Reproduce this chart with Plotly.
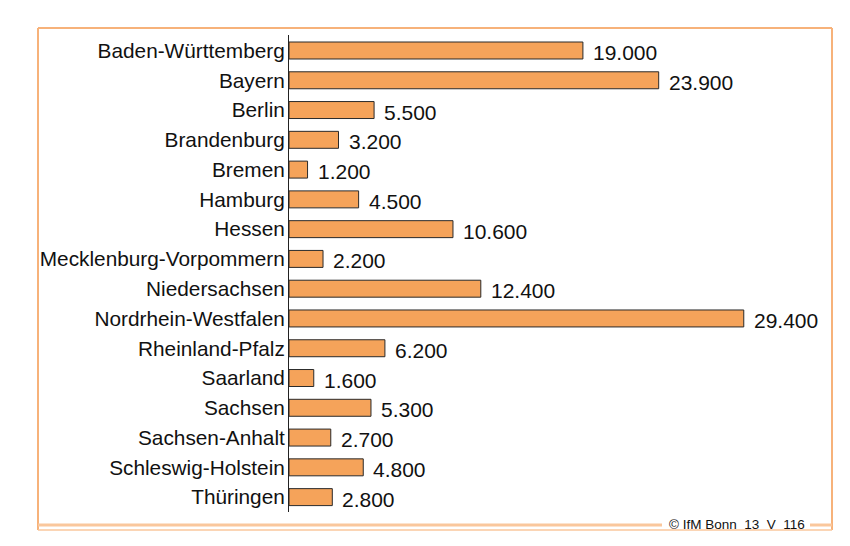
import plotly.graph_objects as go

categories = [
    "Baden-Württemberg", "Bayern", "Berlin", "Brandenburg", "Bremen", "Hamburg",
    "Hessen", "Mecklenburg-Vorpommern", "Niedersachsen", "Nordrhein-Westfalen",
    "Rheinland-Pfalz", "Saarland", "Sachsen", "Sachsen-Anhalt",
    "Schleswig-Holstein", "Thüringen",
]
values = [19000, 23900, 5500, 3200, 1200, 4500, 10600, 2200, 12400, 29400,
          6200, 1600, 5300, 2700, 4800, 2800]
footer = "© IfM Bonn\u00a0\u00a013\u00a0\u00a0V\u00a0\u00a0116"

# page has an 8px body margin; figure coordinates = screen - 8
OFF = 8
W, H = 834, 530
L, R, T, B = 281, 58, 27, 26
PW, PH = W - L - R, H - T - B


def xp(px):
    return (px - OFF - L) / PW


def yp(py):
    return (H - B - (py - OFF)) / PH


FONT = "Liberation Sans, Arial, sans-serif"
BAR = "#F5A35A"
FRAME = "#F7B27A"
FRAME_LIGHT = "#FAC79C"

fig = go.Figure()
fig.add_trace(go.Bar(
    x=values, y=categories, orientation="h",
    marker=dict(color=BAR, line=dict(color="#2a2a2a", width=1)),
    hoverinfo="skip",
))

for c, v in zip(categories, values):
    fig.add_annotation(
        x=v, y=c, xref="x", yref="y", text=f"{v:,}".replace(",", "."),
        showarrow=False, xanchor="left", xshift=8, yshift=-2,
        font=dict(family=FONT, size=21, color="#111111"),
    )


def hline(x0, x1, y, color, width):
    return dict(type="line", xref="paper", yref="paper",
                x0=xp(x0), x1=xp(x1), y0=yp(y), y1=yp(y),
                line=dict(color=color, width=width))


def vline(x, y0, y1, color, width):
    return dict(type="line", xref="paper", yref="paper",
                x0=xp(x), x1=xp(x), y0=yp(y0), y1=yp(y1),
                line=dict(color=color, width=width))


shapes = [
    hline(38, 832, 28, FRAME, 2),
    vline(38, 28, 530, FRAME, 2),
    vline(832, 28, 530, FRAME, 2),
    hline(38, 832, 530, FRAME_LIGHT, 1.5),
    hline(38, 662, 525, FRAME_LIGHT, 3),
    hline(810, 832, 525, FRAME_LIGHT, 3),
]

fig.add_annotation(
    x=xp(737), y=yp(524), xref="paper", yref="paper", text=footer,
    showarrow=False, xanchor="center", yanchor="middle",
    font=dict(family=FONT, size=13.5, color="#111111"),
)

fig.update_layout(
    width=W, height=H,
    margin=dict(l=L, r=R, t=T, b=B, autoexpand=False),
    paper_bgcolor="white", plot_bgcolor="white",
    bargap=0.43, showlegend=False,
    separators=",.",
    shapes=shapes,
    xaxis=dict(range=[0, 32000], visible=False, fixedrange=True),
    yaxis=dict(
        categoryorder="array", categoryarray=categories, autorange="reversed",
        showline=True, linecolor="#222222", linewidth=1,
        showgrid=False, zeroline=False, ticks="", ticklabelstandoff=-1,
        tickfont=dict(family=FONT, size=20.8, color="#111111"),
        fixedrange=True,
    ),
)

fig.write_html("out.html")
